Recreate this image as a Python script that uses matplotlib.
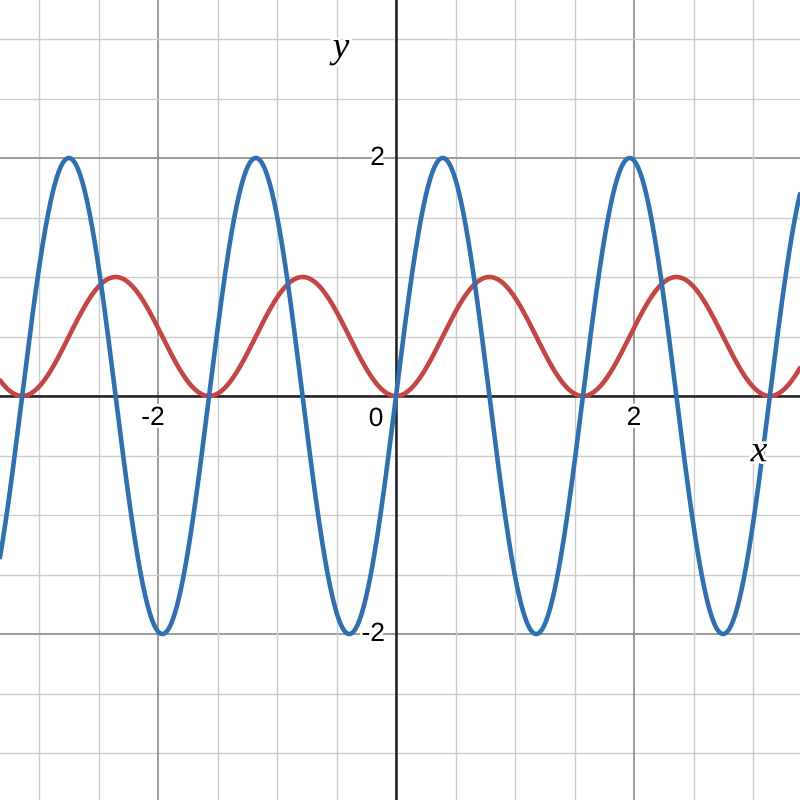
import numpy as np
import matplotlib
matplotlib.use("Agg")
import matplotlib.pyplot as plt
import matplotlib.patheffects as pe
from matplotlib.transforms import offset_copy

# Curves shown: y = 2 sin(4x) (blue) and y = sin^2(2x) (red)
blue_amplitude = 2.0
blue_frequency = 4.0
red_amplitude = 1.0
red_frequency = 2.0
x_ticks = [-2, 2]
y_ticks = [-2, 2]
x_tick_labels = ["-2", "2"]
y_tick_labels = ["-2", "2"]

px_per_unit = 119.0
xmin, xmax = -396 / px_per_unit, 404 / px_per_unit
ymin, ymax = -404 / px_per_unit, 396 / px_per_unit

fig = plt.figure(figsize=(8, 8), dpi=100)
ax = fig.add_axes([0, 0, 1, 1])
ax.set_xlim(xmin, xmax)
ax.set_ylim(ymin, ymax)
ax.axis("off")

# grid
minor = np.arange(-4, 4.01, 0.5)
for v in minor:
    major = abs(v % 2) < 1e-9
    col = "#8a8a8a" if major else "#cccccc"
    lw = 1.2 if major else 1.0
    ax.axvline(v, color=col, lw=lw, zorder=1)
    ax.axhline(v, color=col, lw=lw, zorder=1)

ax.axhline(0, color="#222222", lw=1.8, zorder=2)
ax.axvline(0, color="#222222", lw=1.8, zorder=2)

x = np.linspace(xmin, xmax, 4000)
y_red = red_amplitude * np.sin(red_frequency * x) ** 2
y_blue = blue_amplitude * np.sin(blue_frequency * x)
ax.plot(x, y_red, color="#c74440", lw=3.3, zorder=3, solid_capstyle="round")
ax.plot(x, y_blue, color="#2d70b3", lw=3.3, zorder=4, solid_capstyle="round")

halo = [pe.withStroke(linewidth=4, foreground="white")]
font = "Liberation Sans"
fs = 19

for v, lab in zip(x_ticks, x_tick_labels):
    dx = -5 if v < 0 else 0
    tr = offset_copy(ax.transData, fig=fig, x=dx, y=-22, units="dots")
    ax.text(v, 0, lab, transform=tr, ha="center", va="center", fontsize=fs,
            family=font, zorder=6, path_effects=halo)

for v, lab in zip(y_ticks, y_tick_labels):
    tr = offset_copy(ax.transData, fig=fig, x=-11, y=0, units="dots")
    ax.text(0, v, lab, transform=tr, ha="right", va="center", fontsize=fs,
            family=font, zorder=6, path_effects=halo)

tr0 = offset_copy(ax.transData, fig=fig, x=-20, y=-23, units="dots")
ax.text(0, 0, "0", transform=tr0, ha="center", va="center", fontsize=fs,
        family=font, zorder=6, path_effects=halo)

ax.text(759 / px_per_unit + xmin, ymax - 452 / px_per_unit, "x", ha="center", va="center",
        fontsize=27, family="Liberation Serif", style="italic", zorder=6, path_effects=halo)
ax.text(341 / px_per_unit + xmin, ymax - 48 / px_per_unit, "y", ha="center", va="center",
        fontsize=27, family="Liberation Serif", style="italic", zorder=6, path_effects=halo)

fig.savefig("out.png", dpi=100)
